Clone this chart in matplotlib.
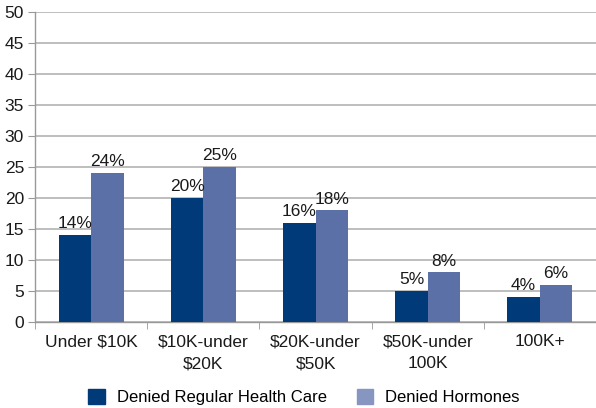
import numpy as np
import matplotlib.pyplot as plt
import matplotlib.patches as mpatches
from matplotlib import font_manager as fm

# prefer a narrow sans if one is around, else regular Liberation Sans
_names = {f.name for f in fm.fontManager.ttflist}
_narrow = [n for n in ('Liberation Sans Narrow', 'Arial Narrow') if n in _names]
plt.rcParams['font.family'] = _narrow + ['Liberation Sans', 'DejaVu Sans']

NAVY = '#003a78'
STEEL = '#5b70a6'
STEEL_KEY = '#8796c0'
GRID = '#b3b3b3'
TEXT = '#1a1a1a'

categories = ['Under $10K', '$10K-under\n$20K', '$20K-under\n$50K', '$50K-under\n100K', '100K+']
regular_care = [14, 20, 16, 5, 4]
hormones = [24, 25, 18, 8, 6]

fig = plt.figure(figsize=(5.96, 4.08), dpi=100)
ax = fig.add_axes([0.059, 0.211, 0.941, 0.76])

x = np.arange(len(categories))
w = 0.29
b1 = ax.bar(x - w / 2, regular_care, w, color=NAVY, zorder=3)
b2 = ax.bar(x + w / 2, hormones, w, color=STEEL, zorder=3)

for bars, vals in ((b1, regular_care), (b2, hormones)):
    for bar, v in zip(bars, vals):
        ax.text(bar.get_x() + bar.get_width() / 2, v + 0.6, f'{v}%',
                ha='center', va='bottom', fontsize=12.5, color=TEXT)

ax.set_ylim(0, 50)
ax.set_xlim(-0.5, len(categories) - 0.5)
ax.set_yticks(range(0, 51, 5))
ax.yaxis.grid(True, color=GRID, linewidth=1.2, zorder=0)
ax.set_axisbelow(True)

for side in ('top', 'right'):
    ax.spines[side].set_visible(False)
for side in ('left', 'bottom'):
    ax.spines[side].set_color('#999999')
    ax.spines[side].set_linewidth(1.0)

ax.set_xticks(x)
ax.set_xticklabels(categories, fontsize=12.5, color=TEXT, linespacing=1.55)
ax.tick_params(axis='x', length=0, pad=9)
# category separators below the axis
ax.set_xticks(np.arange(len(categories) + 1) - 0.5, minor=True)
ax.tick_params(axis='x', which='minor', length=5, color='#999999')
ax.tick_params(axis='y', length=5, color='#999999', labelsize=12.5, labelcolor=TEXT, pad=3)

handles = [mpatches.Patch(color=NAVY, label='Denied Regular Health Care'),
           mpatches.Patch(color=STEEL_KEY, label='Denied Hormones')]
fig.legend(handles=handles, loc='center', bbox_to_anchor=(0.51, 0.027), ncol=2,
           frameon=False, fontsize=12, handlelength=1.0, handleheight=1.0,
           columnspacing=1.8, handletextpad=0.7)

plt.savefig('out.png', dpi=100)
